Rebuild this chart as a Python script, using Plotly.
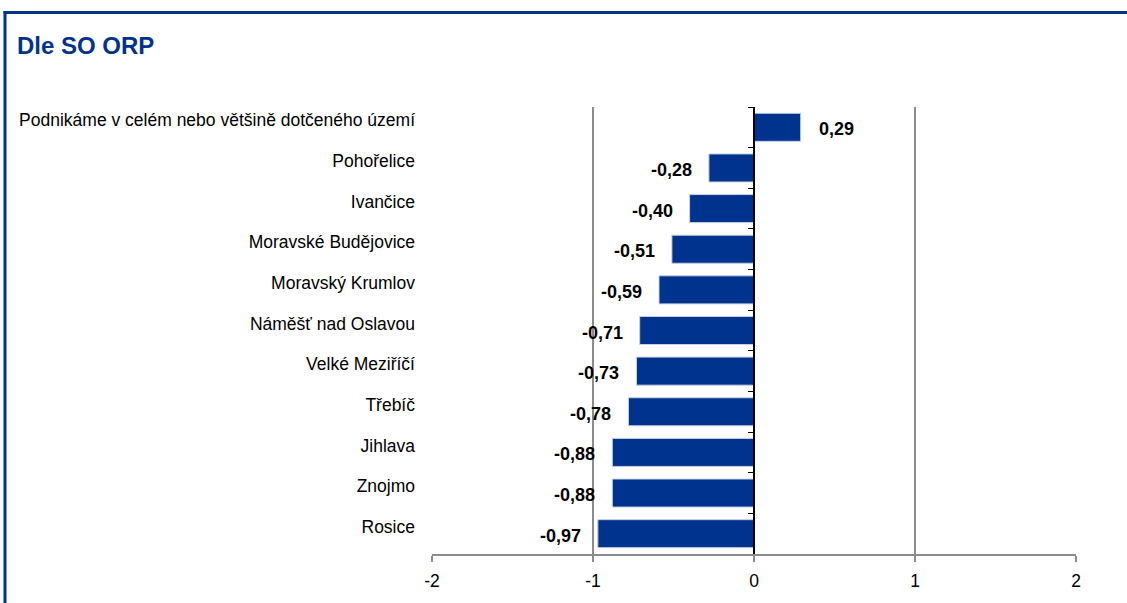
import plotly.graph_objects as go

categories = [
    "Podnikáme v celém nebo většině dotčeného území",
    "Pohořelice",
    "Ivančice",
    "Moravské Budějovice",
    "Moravský Krumlov",
    "Náměšť nad Oslavou",
    "Velké Meziříčí",
    "Třebíč",
    "Jihlava",
    "Znojmo",
    "Rosice",
]
values = [0.29, -0.28, -0.40, -0.51, -0.59, -0.71, -0.73, -0.78, -0.88, -0.88, -0.97]
x_ticks = [-2, -1, 0, 1, 2]
x_tick_labels = ["-2", "-1", "0", "1", "2"]
title_text = "Dle SO ORP"

NAVY = "#00338D"
W, H = 1127, 603
L, R, T, B = 432, 51, 107, 47
PW, PH = W - L - R, H - T - B
FONT = "Arial, Liberation Sans, sans-serif"


def px_x(px):
    return (px - L) / PW


def px_y(py):
    return (H - B - py) / PH


fig = go.Figure()
fig.add_trace(go.Bar(
    x=values, y=categories, orientation="h",
    marker=dict(color=NAVY, line=dict(color="#c8d0e0", width=1)),
    width=0.69, hoverinfo="skip", showlegend=False,
))
# invisible trace for the zero-position category axis ticks
fig.add_trace(go.Scatter(
    x=[0] * len(categories), y=categories, yaxis="y2", mode="markers",
    marker=dict(opacity=0), hoverinfo="skip", showlegend=False,
))

annotations = []
for c, v in zip(categories, values):
    lab = f"{v:.2f}".replace(".", ",")
    annotations.append(dict(
        x=v, y=c, xref="x", yref="y", text=f"<b>{lab}</b>", showarrow=False,
        xanchor="left" if v >= 0 else "right", xshift=16 if v >= 0 else -15,
        yshift=-2, font=dict(family=FONT, size=18, color="black"),
    ))

shapes = [
    dict(type="line", xref="paper", yref="paper",
         x0=px_x(3.5), x1=px_x(W + 5), y0=px_y(12), y1=px_y(12),
         line=dict(color=NAVY, width=3)),
    dict(type="line", xref="paper", yref="paper",
         x0=px_x(5), x1=px_x(5), y0=px_y(10.5), y1=px_y(H + 5),
         line=dict(color=NAVY, width=3)),
]

fig.update_layout(
    width=W, height=H,
    margin=dict(l=L, r=R, t=T, b=B),
    paper_bgcolor="white", plot_bgcolor="white",
    font=dict(family=FONT, size=17, color="black"),
    title=dict(text=f"<b>{title_text}</b>", x=17 / W, xanchor="left",
               y=1 - 46 / H, yanchor="middle", xref="container", yref="container",
               font=dict(family=FONT, size=24, color=NAVY)),
    xaxis=dict(
        range=[-2, 2], tickvals=x_ticks, ticktext=x_tick_labels,
        showgrid=True, gridcolor="#8c8c8c", gridwidth=1.5,
        zeroline=True, zerolinecolor="black", zerolinewidth=1.5,
        showline=True, linecolor="#8c8c8c", linewidth=1.5,
        ticks="outside", ticklen=6, tickcolor="#8c8c8c", tickwidth=1.5,
        ticklabelstandoff=4,
        tickfont=dict(family=FONT, size=17.5, color="black"),
        fixedrange=True,
    ),
    yaxis=dict(
        type="category", categoryorder="array", categoryarray=categories,
        range=[len(categories) - 0.5, -0.5],
        showgrid=False, zeroline=False, showline=False, ticks="",
        ticklabelstandoff=16, ticklabelshift=7,
        tickfont=dict(family=FONT, size=17.5, color="black"),
        fixedrange=True,
    ),
    yaxis2=dict(
        type="category", categoryorder="array", categoryarray=categories,
        range=[len(categories) - 0.5, -0.5],
        overlaying="y", anchor="free", position=0.5, side="left",
        showgrid=False, zeroline=False, showline=True, linecolor="black", linewidth=1.5,
        ticks="outside", tickson="boundaries", ticklen=5, tickcolor="black", tickwidth=1,
        showticklabels=False, fixedrange=True,
    ),
    annotations=annotations,
    shapes=shapes,
    bargap=0.3,
)

fig.write_html(
    "out.html",
    config={"displayModeBar": False},
    post_script="document.body.style.margin='0';document.body.style.overflow='hidden';",
)
